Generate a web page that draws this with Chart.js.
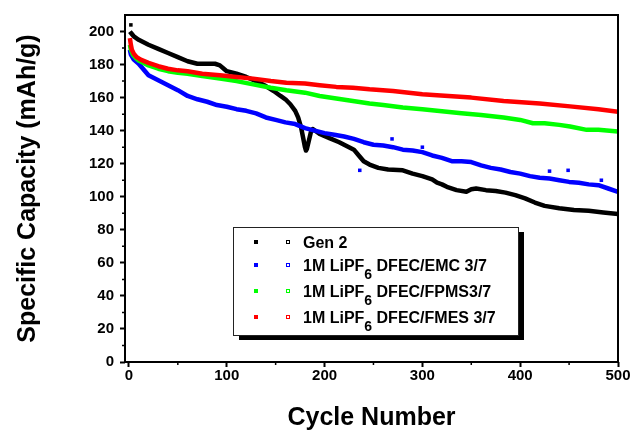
<!DOCTYPE html>
<html><head><meta charset="utf-8">
<script src="https://cdn.jsdelivr.net/npm/chart.js@4/dist/chart.umd.min.js"></script>
<style>html,body{margin:0;padding:0;background:#fff;}canvas{display:block;}</style>
</head><body>
<canvas id="c" width="633" height="433"></canvas>
<script>
// ---- data ----
const gen2Cycles = [1,3,5,10,15,20,30,40,50,60,70,80,88,93,97,100,110,120,130,140,148,155,160,165,170,173,176,178,180,181,182,184,186,188,195,205,215,225,230,235,240,246,255,265,280,290,300,310,315,320,325,335,345,350,355,365,375,385,395,405,415,425,440,455,470,485,500];
const gen2Capacity = [200,198.5,197,195,193.5,192,189.5,187,184.5,182,180.5,180.5,180.5,179.5,177.5,176,174.5,172.5,170,167,164,161,159,156,152,148,142,136,130,128,129,134,139,141,138,135.5,133,130,128.5,125,121.5,119.5,117.5,116.5,116,114,112.5,110.5,108.5,107.5,106,104,103,104.5,105,104,103.5,102.5,101,99,96.5,94.5,93,92,91.5,90.5,89.5];
const gen2StrayCycles = [2];
const gen2StrayCapacity = [204];

const emcCycles = [1,2,5,10,15,20,25,30,35,40,50,60,70,80,90,100,110,120,130,140,150,160,170,180,190,200,210,220,230,240,250,260,270,280,290,300,310,320,330,340,350,360,370,380,390,400,410,420,430,440,450,460,470,480,490,500];
const emcCapacity = [189,186,183,180.5,177,173.5,172,170.5,169,167.5,164.5,161,159,157.5,155.5,154.5,153,152,150.5,148,146.5,145,144,141.5,140,138.5,137.5,136.5,135,133,131.5,131,130,128.5,128,127,125,123.5,121.5,121.5,121,119,117.5,116.5,115,114,112.5,111.5,111,110,109,108.5,107.5,107,105,103];
const emcStrayCycles = [236,269,300,430,449,483];
const emcStrayCapacity = [116,135,130,115.5,116,110];

const fpmsCycles = [1,2,4,7,10,15,20,30,40,50,60,75,93,110,127,145,161,180,195,212,229,246,260,280,300,315,340,360,383,400,413,425,440,451,468,480,500];
const fpmsCapacity = [192,189,186,184,182.5,181,179.5,177.5,176,175,174.5,173,171.5,170,168,166,164.5,163,161,159.5,158,156.5,155.5,154,153,152,150.5,149.5,148,146.5,144.5,144.5,143.5,142.5,140.5,140.5,139.5];

const fmesCycles = [1,2,3,5,8,12,20,30,40,50,60,75,93,110,127,145,161,180,195,212,229,246,270,300,315,350,383,420,451,480,500];
const fmesCapacity = [196,192,189,186.5,184.5,183,181,179,177.5,176.5,176,174.5,173.5,172.5,171.5,170,169,168.5,167.5,166.5,166,165,164,162,161.5,160,158,156.5,154.7,153,151.5];

const seriesLabels = ['Gen 2','1M LiPF_6 DFEC/EMC 3/7','1M LiPF_6 DFEC/FPMS3/7','1M LiPF_6 DFEC/FMES 3/7'];
const seriesColors = ['#000000','#0000ff','#00ff00','#ff0000'];
const xTickValues = [0,100,200,300,400,500];
const yTickValues = [0,20,40,60,80,100,120,140,160,180,200];
const xMinorTicks = [50,150,250,350,450];
const yMinorTicks = [10,30,50,70,90,110,130,150,170,190];

const FONT = 'Arial, "Liberation Sans", Helvetica, sans-serif';
const toXY = (xs, ys) => xs.map((x, i) => ({x: x, y: ys[i]}));

function lineDs(i, xs, ys, order) {
  return {
    label: seriesLabels[i].replace('_6','\u2086'),
    data: toXY(xs, ys),
    borderColor: seriesColors[i],
    backgroundColor: seriesColors[i],
    borderWidth: 4.5,
    borderJoinStyle: 'round',
    pointRadius: 0,
    tension: 0,
    showLine: true,
    order: order
  };
}
function strayDs(i, xs, ys, order) {
  return {
    label: seriesLabels[i].replace('_6','\u2086') + ' (stray)',
    data: toXY(xs, ys),
    showLine: false,
    pointStyle: 'rect',
    pointRadius: 2.5,
    pointBorderWidth: 0,
    backgroundColor: seriesColors[i],
    borderColor: seriesColors[i],
    order: order
  };
}

const framePlugin = {
  id: 'frame',
  afterDraw(chart) {
    const ctx = chart.ctx, a = chart.chartArea;
    const xs = chart.scales.x, ys = chart.scales.y;
    ctx.save();
    ctx.strokeStyle = '#000';
    ctx.lineWidth = 2;
    ctx.strokeRect(a.left, a.top, a.right - a.left, a.bottom - a.top);
    // minor ticks
    ctx.lineWidth = 1.5;
    ctx.beginPath();
    yMinorTicks.forEach(v => { const p = ys.getPixelForValue(v); ctx.moveTo(a.left, p); ctx.lineTo(a.left - 3, p); });
    xMinorTicks.forEach(v => { const p = xs.getPixelForValue(v); ctx.moveTo(p, a.bottom); ctx.lineTo(p, a.bottom + 3); });
    ctx.stroke();

    // legend box
    const bx = 233, by = 227, bw = 285, bh = 108;
    ctx.fillStyle = '#000';
    ctx.fillRect(bx + 6, by + 5, bw, bh);
    ctx.fillStyle = '#fff';
    ctx.fillRect(bx, by, bw, bh);
    ctx.lineWidth = 1;
    ctx.strokeStyle = '#222';
    ctx.strokeRect(bx + 0.5, by + 0.5, bw, bh);
    const rows = [242, 265, 291, 317];
    seriesLabels.forEach((lab, i) => {
      const cy = rows[i];
      ctx.fillStyle = seriesColors[i];
      ctx.fillRect(254, cy - 2, 4, 4);
      ctx.strokeStyle = seriesColors[i];
      ctx.lineWidth = 1;
      ctx.strokeRect(286.5, cy - 1.5, 3, 3);
      ctx.fillStyle = '#000';
      ctx.textBaseline = 'alphabetic';
      ctx.textAlign = 'left';
      const base = cy + 5.7;
      let x = 303;
      const parts = lab.split('_6');
      ctx.font = 'bold 16px ' + FONT;
      ctx.fillText(parts[0], x, base);
      x += ctx.measureText(parts[0]).width;
      if (parts.length > 1) {
        ctx.font = 'bold 14px ' + FONT;
        ctx.fillText('6', x, base + 8);
        x += ctx.measureText('6').width;
        ctx.font = 'bold 16px ' + FONT;
        ctx.fillText(parts[1], x, base);
      }
    });
    ctx.restore();
  }
};

new Chart(document.getElementById('c'), {
  type: 'scatter',
  data: {
    datasets: [
      lineDs(0, gen2Cycles, gen2Capacity, 3),
      strayDs(0, gen2StrayCycles, gen2StrayCapacity, 3),
      lineDs(1, emcCycles, emcCapacity, 2),
      strayDs(1, emcStrayCycles, emcStrayCapacity, 2),
      lineDs(2, fpmsCycles, fpmsCapacity, 1),
      lineDs(3, fmesCycles, fmesCapacity, 0)
    ]
  },
  options: {
    responsive: false,
    animation: false,
    devicePixelRatio: 1,
    layout: { padding: { left: 0, top: 13, right: 15, bottom: 0 } },
    plugins: { legend: { display: false }, tooltip: { enabled: false } },
    scales: {
      x: {
        type: 'linear', min: -4, max: 500,
        afterFit: s => { s.height = 71; },
        afterBuildTicks: s => { s.ticks = xTickValues.map(v => ({value: v})); },
        border: { display: false },
        grid: { display: true, drawOnChartArea: false, drawTicks: true, tickLength: 5, tickWidth: 2, tickColor: '#000' },
        ticks: { padding: 0, color: '#000', font: { family: FONT, size: 15, weight: 'bold' }, maxRotation: 0 },
        title: { display: true, text: 'Cycle Number', color: '#000', font: { family: FONT, size: 25, weight: 'bold' }, padding: { top: 0, bottom: 0 } }
      },
      y: {
        type: 'linear', min: 0, max: 210,
        afterFit: s => { s.width = 125; },
        afterBuildTicks: s => { s.ticks = yTickValues.map(v => ({value: v})); },
        border: { display: false },
        grid: { display: true, drawOnChartArea: false, drawTicks: true, tickLength: 5, tickWidth: 2, tickColor: '#000' },
        ticks: { padding: 6, color: '#000', font: { family: FONT, size: 15, weight: 'bold' } },
        title: { display: true, text: 'Specific Capacity (mAh/g)', color: '#000', font: { family: FONT, size: 25, weight: 'bold' }, padding: { top: 13, bottom: 0 } }
      }
    }
  },
  plugins: [framePlugin]
});
</script>
</body></html>
